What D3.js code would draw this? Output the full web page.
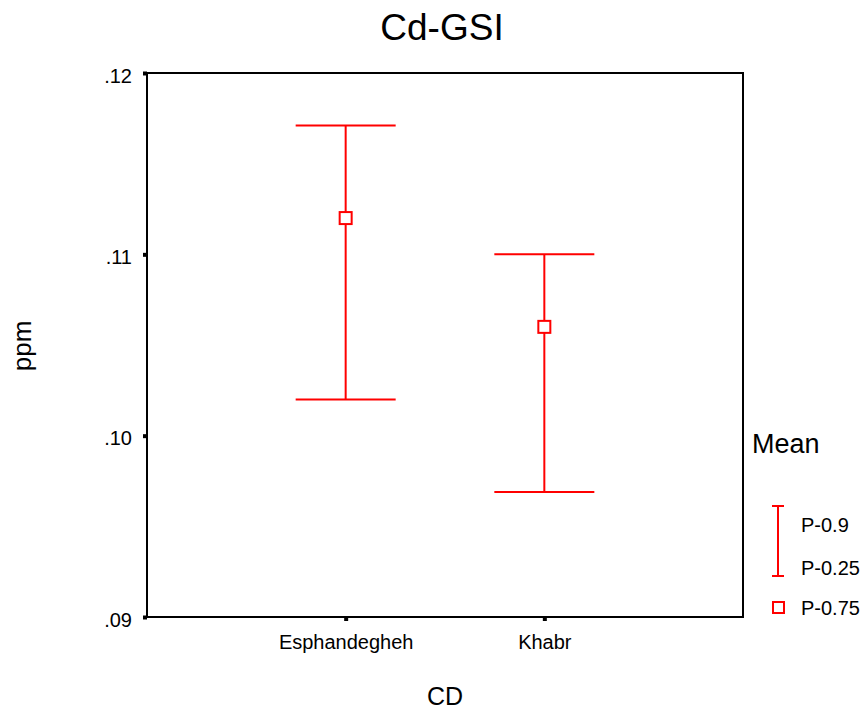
<!DOCTYPE html>
<html>
<head>
<meta charset="utf-8">
<script src="https://cdn.jsdelivr.net/npm/d3@7"></script>
<style>
  html, body { margin: 0; padding: 0; background: #fff; }
  svg { display: block; font-family: Arial, "Liberation Sans", sans-serif; }
</style>
</head>
<body>
<svg id="chart" width="865" height="720"></svg>
<script>
// Cd concentration by site: 25th / 75th / 90th percentiles
const categories = ["Esphandegheh", "Khabr"];
const p90  = [0.1171, 0.1100];
const p75  = [0.1120, 0.1060];
const p25  = [0.1020, 0.0969];
const yTicks = [0.09, 0.10, 0.11, 0.12];
const yTickLabels = [".09", ".10", ".11", ".12"];

const FONT = "Arial, 'Liberation Sans', sans-serif";
const svg = d3.select("#chart");
const red = "#ff0000";

const plot = { left: 147, right: 743, top: 73, bottom: 617 };

const y = d3.scaleLinear().domain([0.09, 0.12]).range([plot.bottom, plot.top]);
// categories sit at one third and two thirds of the frame width
const xPos = d3.scaleOrdinal().domain(categories)
  .range([plot.left + (plot.right - plot.left) / 3, plot.left + 2 * (plot.right - plot.left) / 3]);

// frame
svg.append("rect")
  .attr("x", plot.left).attr("y", plot.top)
  .attr("width", plot.right - plot.left).attr("height", plot.bottom - plot.top)
  .attr("fill", "none").attr("stroke", "#000").attr("stroke-width", 2);

// y axis
const yAxis = d3.axisLeft(y).tickValues(yTicks)
  .tickFormat((d, i) => yTickLabels[i]).tickSize(4).tickPadding(11);
const gy = svg.append("g").attr("transform", `translate(${plot.left},0)`).call(yAxis);
gy.select(".domain").remove();
gy.selectAll(".tick line").attr("stroke", "#000").attr("stroke-width", 4);
gy.selectAll(".tick text").attr("font-size", 20).attr("fill", "#000")
  .attr("font-family", FONT).attr("dy", "0.45em");

// x axis
const xAxis = d3.axisBottom(xPos).tickSize(4).tickPadding(14);
const gx = svg.append("g").attr("transform", `translate(0,${plot.bottom})`).call(xAxis);
gx.select(".domain").remove();
gx.selectAll(".tick line").attr("stroke", "#000").attr("stroke-width", 4);
gx.selectAll(".tick text").attr("font-size", 20).attr("fill", "#000")
  .attr("font-family", FONT);

// percentile bars: whisker from P-0.25 to P-0.9, square at P-0.75
const capHalf = 50;
const g = svg.append("g");
categories.forEach((c, i) => {
  const cx = xPos(c);
  g.append("line").attr("x1", cx).attr("x2", cx).attr("y1", y(p90[i])).attr("y2", y(p25[i]))
    .attr("stroke", red).attr("stroke-width", 2);
  g.append("line").attr("x1", cx - capHalf).attr("x2", cx + capHalf).attr("y1", y(p90[i])).attr("y2", y(p90[i]))
    .attr("stroke", red).attr("stroke-width", 2);
  g.append("line").attr("x1", cx - capHalf).attr("x2", cx + capHalf).attr("y1", y(p25[i])).attr("y2", y(p25[i]))
    .attr("stroke", red).attr("stroke-width", 2);
  g.append("rect").attr("x", cx - 6).attr("y", y(p75[i]) - 6).attr("width", 12).attr("height", 12)
    .attr("fill", "#fff").attr("stroke", red).attr("stroke-width", 2);
});

// titles
svg.append("text").attr("x", 442).attr("y", 40).attr("text-anchor", "middle")
  .attr("font-size", 37).text("Cd-GSI");
svg.append("text").attr("x", 445).attr("y", 705).attr("text-anchor", "middle")
  .attr("font-size", 25).text("CD");
svg.append("text").attr("transform", "translate(31,346) rotate(-90)").attr("text-anchor", "middle")
  .attr("font-size", 26).text("ppm");

// legend
const leg = svg.append("g");
leg.append("text").attr("x", 752).attr("y", 453).attr("font-size", 27).text("Mean");
const lx = 778;
leg.append("line").attr("x1", lx).attr("x2", lx).attr("y1", 506).attr("y2", 576).attr("stroke", red).attr("stroke-width", 2);
leg.append("line").attr("x1", lx - 6).attr("x2", lx + 6).attr("y1", 506).attr("y2", 506).attr("stroke", red).attr("stroke-width", 2);
leg.append("line").attr("x1", lx - 6).attr("x2", lx + 6).attr("y1", 576).attr("y2", 576).attr("stroke", red).attr("stroke-width", 2);
leg.append("rect").attr("x", lx - 5).attr("y", 602).attr("width", 11).attr("height", 11)
  .attr("fill", "#fff").attr("stroke", red).attr("stroke-width", 2);
leg.append("text").attr("x", 801).attr("y", 532).attr("font-size", 20).text("P-0.9");
leg.append("text").attr("x", 801).attr("y", 575).attr("font-size", 20).text("P-0.25");
leg.append("text").attr("x", 801).attr("y", 615).attr("font-size", 20).text("P-0.75");
</script>
</body>
</html>
